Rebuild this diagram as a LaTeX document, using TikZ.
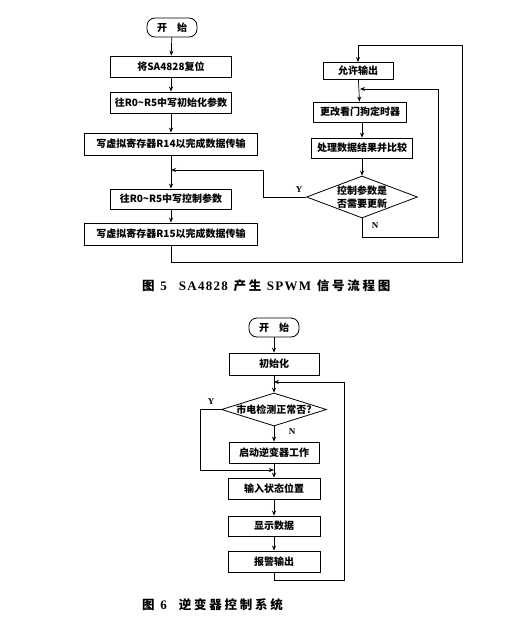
\documentclass[tikz,border=0pt]{standalone}
\usepackage{fontspec}
\setmainfont{Liberation Serif}
\newfontfamily\cjk{Noto Sans CJK SC}
\newfontfamily\cjktitle[LetterSpace=22]{Noto Sans CJK SC}
\newfontfamily\latfont[LetterSpace=10]{Liberation Serif}
\usetikzlibrary{shapes.geometric,arrows.meta}
\newcommand\lat[1]{{\latfont\bfseries\fontsize{13}{14}\selectfont #1}}
\tikzset{
  box/.style={draw, line width=0.8pt, minimum height=21pt, inner sep=1pt,
    font=\cjk\bfseries\fontsize{10}{11}\selectfont},
  startbox/.style={box, rounded corners=8pt, minimum width=50pt, minimum height=19pt},
  decision/.style={draw, line width=0.8pt, diamond, inner sep=0pt, align=center,
    font=\cjk\bfseries\fontsize{10}{13}\selectfont},
  arr/.style={line width=0.7pt, -{Stealth[length=5pt,width=4pt]}},
  yn/.style={font=\bfseries\fontsize{9}{10}\selectfont, inner sep=0pt},
  caption/.style={anchor=west, inner sep=0pt, font=\cjktitle\bfseries\fontsize{12.5}{14}\selectfont}
}
\begin{document}
\begin{tikzpicture}[x=1pt,y=-1pt]
  \useasboundingbox (0,0) rectangle (510,626);
  % figure 5
  \node[startbox] (start5) at (172,27.5) {开\quad 始};
  \node[box, minimum width=121pt] (reset) at (171,66.5) {将SA4828复位};
  \node[box, minimum width=121pt] (init5) at (171,102.5) {往R0\textasciitilde R5中写初始化参数};
  \node[box, minimum width=173pt, minimum height=22pt] (wr14) at (171,144) {写虚拟寄存器R14以完成数据传输};
  \node[box, minimum width=121pt, minimum height=20pt] (ctrl) at (171,199) {往R0\textasciitilde R5中写控制参数};
  \node[box, minimum width=173pt, minimum height=22pt] (wr15) at (171,234) {写虚拟寄存器R15以完成数据传输};
  \node[box, minimum width=70pt, minimum height=17pt] (allow) at (358,71) {允许输出};
  \node[box, minimum width=93pt, minimum height=20pt] (wdog) at (360,112) {更改看门狗定时器};
  \node[box, minimum width=101pt, minimum height=20pt] (proc) at (362,148) {处理数据结果并比较};
  \node[decision, aspect=2.64, inner xsep=-2pt, minimum width=111pt, minimum height=42pt] (dec5) at (362,197) {控制参数是\\否需要更新};
  \coordinate (m1) at (171,170);
  \coordinate (m2) at (360,89);
  \coordinate (c1) at (462,262);
  \coordinate (c2) at (462,45);
  \coordinate (c3) at (438,237);
  \coordinate (c5) at (263,197);
  \draw[arr] (start5) -- (reset);
  \draw[arr] (reset) -- (init5);
  \draw[arr] (init5) -- (wr14);
  \draw[arr] (wr14) -- (ctrl);
  \draw[arr] (ctrl) -- (wr15);
  \draw[arr] (dec5.west) -- (c5) |- (m1);
  \draw[arr] (wr15.south) |- (c1) -- (c2) -| (allow.north);
  \draw[arr] (allow) -- (wdog);
  \draw[arr] (wdog.south -| proc) -- (proc);
  \draw[arr] (proc) -- (dec5);
  \draw[arr] (dec5.south) |- (c3) |- (m2);
  \node[yn] (y5) at (299,190) {Y};
  \node[yn] (n5) at (375,226) {N};
  \node[caption] (cap5) at (142,286) {图 \lat{5}\hspace{12pt}\lat{SA4828} 产生 \lat{SPWM} 信号流程图};
  % figure 6
  \node[startbox] (start6) at (274,327.5) {开\quad 始};
  \node[box, minimum width=90pt, minimum height=22pt] (init6) at (274,364) {初始化};
  \node[decision, aspect=3.2, inner xsep=-4pt, minimum width=105pt, minimum height=33pt] (dec6) at (274,409.5) {市电检测正常否?};
  \node[box, minimum width=90pt] (run) at (274,452.5) {启动逆变器工作};
  \node[box, minimum width=92pt] (state) at (274,488.5) {输入状态位置};
  \node[box, minimum width=92pt, minimum height=20pt] (show) at (274,526) {显示数据};
  \node[box, minimum width=92pt] (alarm) at (274,561.5) {报警输出};
  \coordinate (m3) at (274,382);
  \coordinate (m4) at (274,470);
  \coordinate (c4) at (344,580);
  \coordinate (c6) at (200,409.5);
  \draw[arr] (start6) -- (init6);
  \draw[arr] (init6) -- (dec6);
  \draw[arr] (dec6) -- (run);
  \draw[arr] (run) -- (state);
  \draw[arr] (state) -- (show);
  \draw[arr] (show) -- (alarm);
  \draw[arr] (dec6.west) -- (c6) |- (m4);
  \draw[arr] (alarm.south) |- (c4) |- (m3);
  \node[yn] (y6) at (211,402) {Y};
  \node[yn] (n6) at (292,432) {N};
  \node[caption] (cap6) at (142,605) {图 \lat{6}\hspace{12pt}逆变器控制系统};
\end{tikzpicture}
\end{document}
